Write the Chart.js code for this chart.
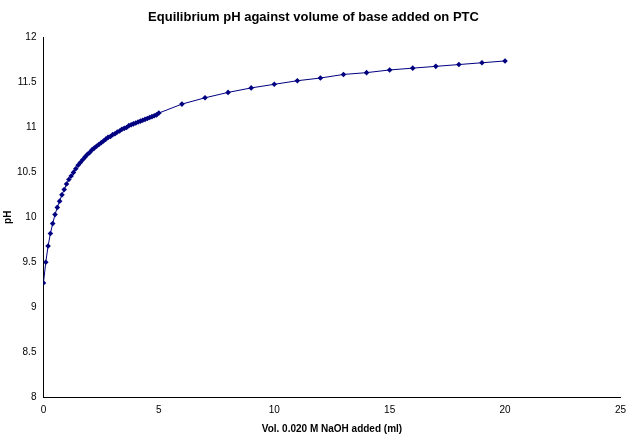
<!DOCTYPE html>
<html><head>
<script src="https://cdn.jsdelivr.net/npm/chart.js@4"></script>
<style>body{margin:0;background:#fff}#wrap{width:629px;height:441px}</style>
</head><body><div id="wrap"><canvas id="c"></canvas></div>
<script>
const volumes = [0,0.1,0.2,0.3,0.4,0.5,0.6,0.7,0.8,0.9,1,1.1,1.2,1.3,1.4,1.5,1.6,1.7,1.8,1.9,2,2.1,2.2,2.3,2.4,2.5,2.6,2.7,2.8,2.9,3,3.1,3.2,3.3,3.4,3.5,3.6,3.7,3.8,3.9,4,4.1,4.2,4.3,4.4,4.5,4.6,4.7,4.8,4.9,5,6,7,8,9,10,11,12,13,14,15,16,17,18,19,20];
const phValues = [9.27,9.50,9.68,9.82,9.93,10.03,10.11,10.18,10.25,10.31,10.37,10.42,10.46,10.50,10.54,10.58,10.61,10.64,10.67,10.70,10.72,10.75,10.77,10.79,10.81,10.83,10.85,10.87,10.89,10.90,10.92,10.93,10.95,10.96,10.98,10.99,11.00,11.02,11.03,11.04,11.05,11.06,11.07,11.08,11.09,11.10,11.11,11.12,11.13,11.14,11.16,11.26,11.33,11.39,11.44,11.48,11.52,11.55,11.59,11.61,11.64,11.66,11.68,11.70,11.72,11.74];

const navy = "#000080";
new Chart(document.getElementById("c"), {
    type: "scatter",
    data: {
        datasets: [{
            data: volumes.map((v, i) => ({ x: v, y: phValues[i] })),
            showLine: true,
            borderColor: navy,
            borderWidth: 1,
            backgroundColor: navy,
            pointStyle: "rectRot",
            pointRadius: 2.8,
            pointBorderWidth: 0,
        }],
    },
    options: {
        responsive: true,
        maintainAspectRatio: false,
        animation: false,
        layout: { padding: { left: 2, right: 4, top: 4, bottom: 2 } },
        plugins: {
            legend: { display: false },
            tooltip: { enabled: false },
            title: {
                display: true,
                text: "Equilibrium pH against volume of base added on PTC",
                color: "#000",
                font: { family: "Arial, Liberation Sans", size: 13, weight: "bold" },
                padding: { top: 6, bottom: 12 },
            },
        },
        scales: {
            x: {
                min: 0, max: 25,
                ticks: { stepSize: 5, color: "#000", font: { family: "Arial, Liberation Sans", size: 10 } },
                grid: { display: false, drawTicks: true, tickLength: 4, tickColor: "#000" },
                border: { color: "#000" },
                title: { display: true, text: "Vol. 0.020 M NaOH added (ml)", color: "#000",
                    font: { family: "Arial, Liberation Sans", size: 10, weight: "bold" } },
            },
            y: {
                min: 8, max: 12,
                ticks: { stepSize: 0.5, color: "#000", callback: (v) => String(v),
                    font: { family: "Arial, Liberation Sans", size: 10 } },
                grid: { display: false, drawTicks: true, tickLength: 4, tickColor: "#000" },
                border: { color: "#000" },
                title: { display: true, text: "pH", color: "#000", padding: 0,
                    font: { family: "Arial, Liberation Sans", size: 10, weight: "bold" } },
            },
        },
    },
});
</script></body></html>
